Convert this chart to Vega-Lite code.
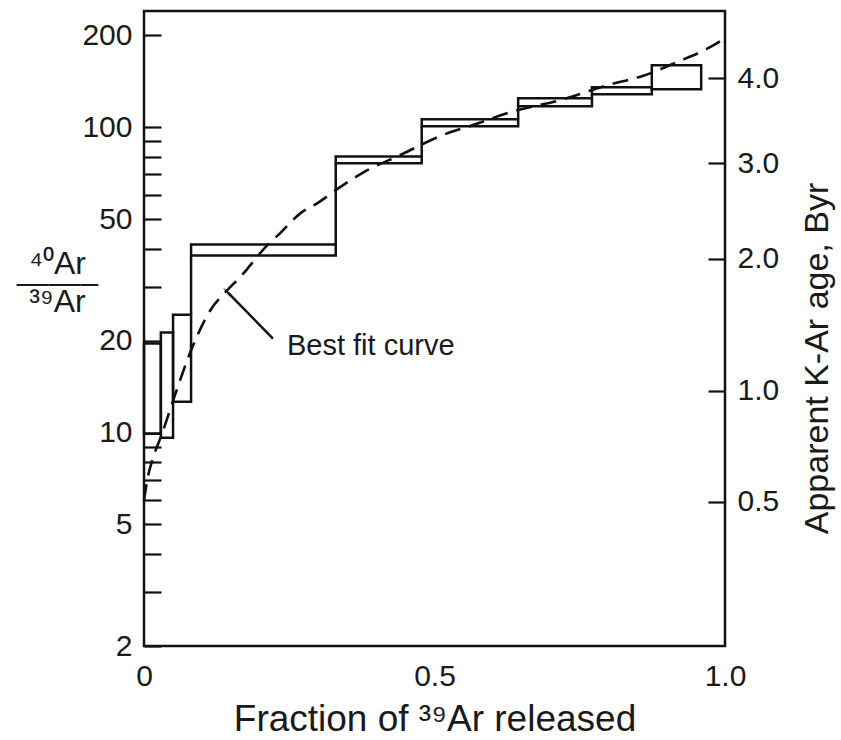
{
  "$schema": "https://vega.github.io/schema/vega-lite/v6.json",
  "width": 581,
  "height": 635,
  "autosize": {"type": "none"},
  "padding": {"left": 144, "top": 11, "right": 116, "bottom": 94},
  "background": "white",
  "config": {
    "view": {"stroke": "#111", "strokeWidth": 2.5},
    "font": "Liberation Sans",
    "axis": {
      "labelFont": "Liberation Sans",
      "titleFont": "Liberation Sans",
      "labelColor": "#1a1a1a",
      "titleColor": "#1a1a1a",
      "titleFontWeight": "normal",
      "grid": false,
      "domain": false,
      "tickColor": "#111",
      "labelFlush": false,
      "labelOverlap": false,
      "labelFontSize": 30,
      "titleFontSize": 32
    }
  },
  "datasets": {
    "boxes": [
      {"f0": 0.0, "f1": 0.029, "lo": 9.91, "hi": 19.55},
      {"f0": 0.029, "f1": 0.050, "lo": 9.62, "hi": 21.25},
      {"f0": 0.050, "f1": 0.081, "lo": 12.6, "hi": 24.3},
      {"f0": 0.081, "f1": 0.330, "lo": 38.0, "hi": 41.3},
      {"f0": 0.330, "f1": 0.478, "lo": 76.1, "hi": 80.2},
      {"f0": 0.478, "f1": 0.644, "lo": 100.6, "hi": 106.1},
      {"f0": 0.644, "f1": 0.771, "lo": 117.0, "hi": 124.3},
      {"f0": 0.771, "f1": 0.874, "lo": 128.2, "hi": 135.1},
      {"f0": 0.874, "f1": 0.959, "lo": 133.0, "hi": 159.5}
    ],
    "connectors": [
      {"f": 0.081, "lo": 24.3, "hi": 38.0},
      {"f": 0.330, "lo": 41.3, "hi": 76.1},
      {"f": 0.478, "lo": 80.2, "hi": 100.6},
      {"f": 0.644, "lo": 106.1, "hi": 117.0},
      {"f": 0.771, "lo": 124.3, "hi": 128.2}
    ],
    "curve": [
      {"f": 0.0, "v": 6.0},
      {"f": 0.007, "v": 7.2},
      {"f": 0.015, "v": 8.2},
      {"f": 0.031, "v": 9.9},
      {"f": 0.050, "v": 12.7},
      {"f": 0.083, "v": 19.0},
      {"f": 0.114, "v": 25.1},
      {"f": 0.143, "v": 29.2},
      {"f": 0.165, "v": 32.2},
      {"f": 0.212, "v": 41.0},
      {"f": 0.234, "v": 44.9},
      {"f": 0.269, "v": 52.2},
      {"f": 0.298, "v": 56.3},
      {"f": 0.337, "v": 63.5},
      {"f": 0.377, "v": 71.0},
      {"f": 0.444, "v": 81.5},
      {"f": 0.513, "v": 94.0},
      {"f": 0.565, "v": 101.4},
      {"f": 0.630, "v": 111.9},
      {"f": 0.721, "v": 123.3},
      {"f": 0.797, "v": 137.1},
      {"f": 0.857, "v": 146.8},
      {"f": 0.917, "v": 163.1},
      {"f": 0.971, "v": 181.3},
      {"f": 1.0, "v": 195.6}
    ],
    "leader": [
      {"f": 0.1446, "v": 28.7, "f2": 0.222, "v2": 20.3}
    ],
    "label": [
      {"f": 0.246, "v": 17.9, "text": "Best fit curve"}
    ]
  },
  "resolve": {"axis": {"y": "independent"}},
  "layer": [
    {
      "data": {"name": "curve"},
      "mark": {"type": "line", "stroke": "#111", "strokeWidth": 2.6, "strokeDash": [16, 9], "interpolate": "monotone"},
      "encoding": {
        "x": {
          "field": "f", "type": "quantitative",
          "scale": {"domain": [0, 1], "nice": false, "zero": false},
          "axis": {
            "orient": "bottom",
            "values": [0, 0.5, 1],
            "labelExpr": "datum.value == 0 ? '0' : (datum.value == 1 ? '1.0' : '0.5')",
            "tickSize": 0,
            "labelPadding": 15,
            "title": "Fraction of ³⁹Ar released",
            "titleFontSize": 37,
            "titlePadding": 10
          }
        },
        "y": {
          "field": "v", "type": "quantitative",
          "scale": {"type": "log", "domain": [2, 240], "nice": false},
          "axis": {
            "orient": "right",
            "values": [5.93, 13.7, 37.1, 76.1, 144.6],
            "labelExpr": "datum.value < 8 ? '0.5' : datum.value < 20 ? '1.0' : datum.value < 50 ? '2.0' : datum.value < 100 ? '3.0' : '4.0'",
            "tickSize": -17,
            "tickWidth": 2.2,
            "labelPadding": 29,
            "title": "Apparent K-Ar age, Byr",
            "titleAngle": 270,
            "titleAlign": "center",
            "titleBaseline": "alphabetic",
            "titleX": 102,
            "titleY": 347,
            "titleFontSize": 34
          }
        }
      }
    },
    {
      "data": {"name": "boxes"},
      "mark": {"type": "rect", "filled": false, "stroke": "#111", "strokeWidth": 2.5},
      "encoding": {
        "x": {"field": "f0", "type": "quantitative", "scale": {"domain": [0, 1], "nice": false, "zero": false}},
        "x2": {"field": "f1"},
        "y": {
          "field": "lo", "type": "quantitative",
          "scale": {"type": "log", "domain": [2, 240], "nice": false},
          "axis": {
            "orient": "left",
            "values": [2, 3, 4, 5, 6, 7, 8, 9, 10, 20, 30, 40, 50, 60, 70, 80, 90, 100, 200],
            "labelExpr": "indexof([2,5,10,20,50,100,200], datum.value) >= 0 ? '' + datum.value : ''",
            "tickSize": -17,
            "tickWidth": 2.2,
            "labelPadding": 29,
            "title": ["⁴⁰Ar", "——–", "³⁹Ar"],
            "titleAngle": 0,
            "titleAlign": "center",
            "titleBaseline": "alphabetic",
            "titleX": -87,
            "titleY": 262,
            "titleLineHeight": 19,
            "titleFontSize": 32
          }
        },
        "y2": {"field": "hi"}
      }
    },
    {
      "data": {"name": "connectors"},
      "mark": {"type": "rule", "stroke": "#111", "strokeWidth": 2.5},
      "encoding": {
        "x": {"field": "f", "type": "quantitative", "scale": {"domain": [0, 1], "nice": false, "zero": false}},
        "y": {"field": "lo", "type": "quantitative", "scale": {"type": "log", "domain": [2, 240], "nice": false}, "axis": null},
        "y2": {"field": "hi"}
      }
    },
    {
      "data": {"name": "leader"},
      "mark": {"type": "rule", "stroke": "#111", "strokeWidth": 2.4},
      "encoding": {
        "x": {"field": "f", "type": "quantitative", "scale": {"domain": [0, 1], "nice": false, "zero": false}},
        "x2": {"field": "f2"},
        "y": {"field": "v", "type": "quantitative", "scale": {"type": "log", "domain": [2, 240], "nice": false}, "axis": null},
        "y2": {"field": "v2"}
      }
    },
    {
      "data": {"name": "leader"},
      "mark": {"type": "point", "shape": "wedge", "filled": true, "color": "#111", "size": 160, "angle": 315, "opacity": 1},
      "encoding": {
        "x": {"field": "f", "type": "quantitative", "scale": {"domain": [0, 1], "nice": false, "zero": false}},
        "y": {"field": "v", "type": "quantitative", "scale": {"type": "log", "domain": [2, 240], "nice": false}, "axis": null}
      }
    },
    {
      "data": {"name": "label"},
      "mark": {"type": "text", "align": "left", "baseline": "alphabetic", "fontSize": 29, "font": "Liberation Sans", "color": "#1a1a1a"},
      "encoding": {
        "x": {"field": "f", "type": "quantitative", "scale": {"domain": [0, 1], "nice": false, "zero": false}},
        "y": {"field": "v", "type": "quantitative", "scale": {"type": "log", "domain": [2, 240], "nice": false}, "axis": null},
        "text": {"field": "text"}
      }
    }
  ]
}
